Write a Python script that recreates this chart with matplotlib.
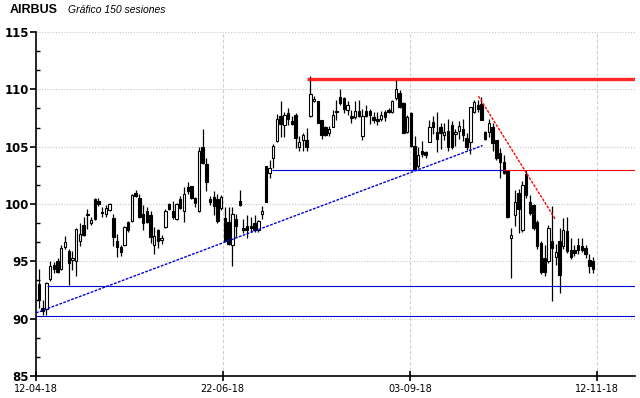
import matplotlib
matplotlib.use("Agg")

import matplotlib.pyplot as plt
import numpy as np


# -----------------------------
# Price data (150 sessions)
# -----------------------------
opens = [
    93.05, 90.9, 90.8, 93.5, 94.7, 95.0, 94.3, 96.25, 95.9, 95.1,
    95.0, 96.8, 98.2, 99.1, 98.3, 100.4, 100.3, 99.3, 99.1, 99.5,
    98.8, 96.8, 96.25, 96.4, 98.4, 98.5, 101.0, 100.5, 99.1, 99.35,
    99.0, 96.45, 97.75, 96.9, 98.0, 100.0, 99.35, 98.7, 100.4, 99.35,
    101.5, 101.55, 100.5, 99.4, 105.0, 103.5, 100.4, 100.6, 100.4, 99.65,
    98.8, 98.4, 96.45, 98.7, 100.25, 97.9, 98.1, 98.1, 98.3, 97.75,
    99.1, 103.3, 102.7, 104.0, 105.5, 107.7, 106.9, 107.9, 107.2, 107.8,
    105.0, 105.6, 105.6, 107.7, 109.0, 109.0, 107.35, 106.7, 106.2, 106.75,
    108.1, 109.3, 109.25, 108.2, 107.65, 107.55, 108.15, 105.9, 108.1, 108.1,
    107.6, 107.4, 107.4, 108.0, 108.2, 108.0, 109.25, 109.7, 108.85, 106.25,
    107.9, 105.1, 103.3, 104.6, 104.5, 105.4, 107.15, 106.3, 106.7, 106.0,
    106.4, 106.9, 106.1, 106.4, 106.55, 105.75, 105.4, 108.0, 108.6, 108.7,
    106.3, 106.3, 106.75, 105.6, 104.45, 103.7, 102.85, 97.0, 99.05, 101.0,
    97.75, 102.6, 100.2, 99.9, 98.4, 96.6, 95.3, 95.0, 96.8, 95.4,
    96.75, 96.3, 97.65, 96.0, 96.0, 96.45, 96.3, 96.15, 95.1, 95.0,
]
highs = [
    94.3, 91.6, 93.2, 95.0, 94.9, 95.3, 96.4, 97.2, 96.1, 95.9,
    97.9, 98.3, 98.9, 99.6, 98.9, 100.5, 100.5, 99.7, 99.9, 100.1,
    99.1, 97.4, 96.4, 98.1, 98.5, 100.9, 101.2, 100.9, 99.9, 99.7,
    99.4, 98.0, 97.8, 97.3, 99.6, 100.1, 100.3, 100.1, 100.7, 101.5,
    101.9, 101.6, 100.6, 105.0, 106.5, 104.0, 100.7, 101.1, 100.9, 100.8,
    99.7, 99.7, 99.7, 99.1, 101.2, 98.7, 99.0, 98.9, 99.0, 98.6,
    99.8, 103.3, 103.85, 105.2, 107.85, 109.0, 108.0, 108.4, 107.7, 107.9,
    105.9, 106.2, 106.6, 111.2, 109.4, 109.0, 107.35, 106.8, 106.8, 108.2,
    109.1, 110.0, 109.3, 109.0, 108.2, 108.95, 109.1, 108.3, 108.6, 108.3,
    108.0, 108.0, 108.1, 108.2, 108.4, 109.1, 110.9, 109.9, 108.9, 107.8,
    108.0, 105.9, 105.0, 105.5, 104.6, 107.3, 107.7, 108.0, 107.1, 107.1,
    107.4, 107.2, 106.5, 107.2, 107.4, 106.2, 108.5, 109.1, 109.1, 109.3,
    106.4, 107.45, 107.1, 105.6, 104.9, 104.3, 103.0, 97.9, 101.2, 101.3,
    102.0, 103.0, 100.8, 100.0, 98.6, 96.8, 96.4, 98.2, 99.8, 96.5,
    97.9, 98.8, 98.9, 97.0, 96.4, 97.0, 97.0, 96.4, 95.6, 95.4,
]
lows = [
    90.9, 90.3, 90.35, 93.3, 94.0, 94.0, 94.2, 96.1, 92.9, 94.2,
    93.75, 96.3, 97.2, 97.8, 98.2, 98.6, 99.8, 98.9, 98.9, 99.4,
    96.3, 95.4, 95.5, 96.3, 97.6, 98.4, 100.6, 98.8, 97.75, 98.3,
    96.6, 95.6, 96.15, 96.5, 97.9, 99.5, 98.7, 98.6, 99.6, 98.4,
    100.9, 100.4, 99.7, 99.3, 103.5, 101.1, 99.9, 99.0, 98.3, 99.5,
    96.8, 96.4, 94.55, 97.1, 99.8, 97.5, 97.0, 97.6, 97.6, 97.6,
    98.7, 100.2, 102.3, 103.1, 105.4, 105.8, 105.8, 106.9, 106.9, 104.9,
    104.6, 104.6, 104.6, 107.6, 108.9, 107.1, 105.7, 105.9, 105.9, 106.7,
    107.3, 108.6, 107.9, 107.8, 107.05, 107.4, 107.6, 105.6, 107.6, 107.0,
    107.1, 106.9, 107.2, 107.2, 107.9, 107.9, 109.1, 108.4, 106.2, 106.2,
    104.95, 103.0, 103.1, 104.1, 104.0, 105.4, 106.1, 104.5, 104.8, 105.6,
    104.6, 104.8, 105.1, 105.7, 105.5, 104.7, 104.4, 107.9, 108.0, 107.35,
    105.6, 105.8, 104.6, 103.8, 102.25, 102.6, 98.8, 93.55, 98.1, 97.5,
    97.6, 100.5, 99.0, 97.7, 96.1, 93.9, 93.7, 94.85, 91.5, 94.7,
    92.25, 96.1, 95.7, 95.2, 95.5, 95.6, 95.8, 95.3, 94.0, 94.0,
]
closes = [
    91.6, 90.7, 93.1, 94.6, 94.3, 94.1, 96.2, 96.7, 94.85, 95.3,
    97.8, 97.4, 97.3, 99.0, 98.6, 98.7, 100.0, 99.2, 99.65, 100.0,
    97.1, 96.25, 95.8, 98.0, 97.75, 100.8, 100.7, 98.9, 98.3, 98.4,
    97.1, 97.25, 96.8, 97.0, 99.4, 99.55, 98.9, 100.0, 99.65, 100.9,
    101.1, 100.5, 100.1, 104.6, 103.6, 101.9, 100.2, 99.85, 98.5, 100.6,
    96.8, 96.5, 99.1, 98.05, 99.9, 97.7, 97.75, 97.9, 97.7, 98.55,
    99.4, 100.2, 103.1, 105.1, 107.4, 107.0, 107.8, 107.4, 107.0, 105.75,
    105.45, 106.0, 105.0, 109.6, 109.15, 107.1, 106.05, 106.0, 106.5, 107.8,
    108.0, 108.8, 108.3, 108.65, 107.5, 108.15, 107.7, 107.65, 107.7, 107.8,
    107.3, 107.2, 107.8, 107.6, 108.0, 109.0, 110.0, 108.5, 106.2, 107.55,
    105.1, 103.0, 104.3, 104.35, 104.25, 106.75, 106.7, 105.7, 106.2, 106.3,
    104.95, 105.0, 106.3, 106.8, 106.0, 105.0, 108.45, 108.9, 108.3, 107.35,
    105.65, 107.05, 105.3, 104.0, 103.65, 102.7, 98.9, 97.3, 100.2, 99.6,
    101.7, 100.8, 99.2, 97.9, 96.3, 94.1, 94.1, 97.95, 96.15, 95.8,
    93.85, 97.75, 95.9, 95.35, 95.7, 96.0, 96.0, 95.6, 94.55, 94.35,
]

date_labels = ["12-04-18", "22-06-18", "03-09-18", "12-11-18"]
date_pos = [-0.8, 49.4, 99.8, 150.1]

# drawn levels: (price, first session, last session)
resist_top = (110.9, 72.2, None)
level_103_blue = (103.0, 62.6, 124.9)
level_103_red = (103.0, 124.9, None)
support_929 = (92.88, 2.2, None)
support_902 = (90.2, -0.8, None)

# trendlines: sessions, prices
trend_up_x = [-0.8, 119.3]
trend_up_y = [90.5, 105.1]
trend_down_x = [118.2, 138.8]
trend_down_y = [109.4, 98.7]

X_LEFT, X_RIGHT = -0.8, 160.3
BLUE = "#0000d8"
RED = "#ff0000"


def level(ax, lv, color, lw, **kw):
    price, start, end = lv
    ax.hlines(price, start, X_RIGHT if end is None else end, color=color, lw=lw, zorder=5, **kw)


fig = plt.figure(figsize=(6.4, 3.98), dpi=100)
ax = fig.add_axes([0.05625, 0.0553, 0.936, 0.8643])

o = np.array(opens)
h = np.array(highs)
l = np.array(lows)
c = np.array(closes)
x = np.arange(len(c))
up = c >= o

ax.vlines(x, l, h, color="black", lw=0.9, zorder=3)
bottom = np.minimum(o, c)
height = np.maximum(np.abs(c - o), 0.07)
ax.bar(x[up], height[up], bottom=bottom[up], width=0.65, color="white",
       edgecolor="black", linewidth=0.8, zorder=4)
ax.bar(x[~up], height[~up], bottom=bottom[~up], width=0.65, color="black",
       edgecolor="black", linewidth=0.8, zorder=4)

# support / resistance
level(ax, resist_top, RED, 2.4, alpha=0.85)
level(ax, level_103_blue, BLUE, 0.8)
level(ax, level_103_red, RED, 0.8)
level(ax, support_929, BLUE, 0.8)
level(ax, support_902, BLUE, 0.8)
ax.plot(trend_up_x, trend_up_y, color=BLUE, lw=1.0, ls=(0, (2, 1)), zorder=5)
ax.plot(trend_down_x, trend_down_y, color=RED, lw=1.0, ls=(0, (2, 1)), zorder=5)

ax.set_xlim(X_LEFT, X_RIGHT)
ax.set_ylim(85, 115)
ax.set_yticks(np.arange(85, 116, 5))
ax.set_yticks(np.arange(85, 115, 5 / 3), minor=True)
ax.set_xticks(date_pos)
ax.set_xticklabels(date_labels)

for yv in np.arange(85, 116, 5):
    ax.axhline(yv, color="#c8c8c8", lw=0.8, ls=(0, (1, 1.5)), zorder=1)
for xv in date_pos[1:]:
    ax.axvline(xv, color="#cfcfcf", lw=0.8, ls=(0, (3, 2)), zorder=1)

for side in ("top", "right"):
    ax.spines[side].set_visible(False)
ax.spines["left"].set_linewidth(1.2)
ax.spines["bottom"].set_linewidth(1.2)

ax.tick_params(axis="y", which="major", direction="out", length=4, width=1.2,
               labelsize=8.5, pad=1)
ax.tick_params(axis="y", which="minor", direction="in", length=3, width=1)
ax.tick_params(axis="x", which="major", direction="inout", length=7, width=1.2,
               labelsize=7, pad=2)
for lab in ax.get_yticklabels():
    lab.set_fontweight("bold")

fig.text(10 / 640, 1 - 13 / 398, "AIRBUS", fontsize=9, fontweight="bold",
         family="Liberation Sans", va="baseline")
fig.text(68 / 640, 1 - 13 / 398, "Gráfico 150 sesiones", fontsize=7.5, style="italic",
         family="Liberation Sans", va="baseline")

fig.savefig("out.png", dpi=100)
